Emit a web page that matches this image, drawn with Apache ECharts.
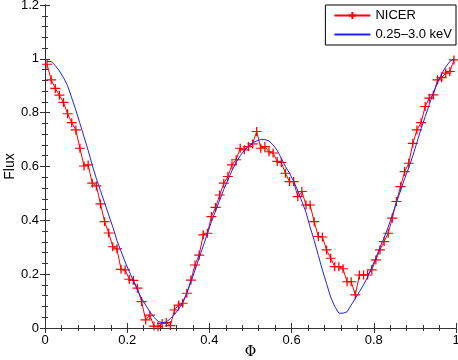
<!DOCTYPE html>
<html>
<head>
<meta charset="utf-8">
<script src="https://cdn.jsdelivr.net/npm/echarts@6/dist/echarts.min.js"></script>
<style>
  html, body { margin: 0; padding: 0; background: #fff; }
  #chart { width: 458px; height: 360px; }
</style>
</head>
<body>
<div id="chart"></div>
<script>
// phase bin centres
const phase = [
  0.005, 0.015, 0.025, 0.035, 0.045, 0.055, 0.065, 0.075, 0.085, 0.095,
  0.105, 0.115, 0.125, 0.135, 0.145, 0.155, 0.165, 0.175, 0.185, 0.195,
  0.205, 0.215, 0.225, 0.235, 0.245, 0.255, 0.265, 0.275, 0.285, 0.295,
  0.305, 0.315, 0.325, 0.335, 0.345, 0.355, 0.365, 0.375, 0.385, 0.395,
  0.405, 0.415, 0.425, 0.435, 0.445, 0.455, 0.465, 0.475, 0.485, 0.495,
  0.505, 0.515, 0.525, 0.535, 0.545, 0.555, 0.565, 0.575, 0.585, 0.595,
  0.605, 0.615, 0.625, 0.635, 0.645, 0.655, 0.665, 0.675, 0.685, 0.695,
  0.705, 0.715, 0.725, 0.735, 0.745, 0.755, 0.765, 0.775, 0.785, 0.795,
  0.805, 0.815, 0.825, 0.835, 0.845, 0.855, 0.865, 0.875, 0.885, 0.895,
  0.905, 0.915, 0.925, 0.935, 0.945, 0.955, 0.965, 0.975, 0.985, 0.995
];

// NICER pulse profile (red crosses)
const nicerFlux = [
  0.98, 0.922, 0.89, 0.865, 0.838, 0.796, 0.763, 0.736, 0.668, 0.602,
  0.606, 0.538, 0.528, 0.461, 0.395, 0.353, 0.302, 0.294, 0.218, 0.216,
  0.181, 0.177, 0.148, 0.098, 0.03, 0.048, 0.007, 0.005, 0.017, 0.02,
  0.009, 0.067, 0.085, 0.092, 0.129, 0.178, 0.234, 0.271, 0.346, 0.352,
  0.414, 0.448, 0.494, 0.538, 0.563, 0.606, 0.625, 0.668, 0.662, 0.674,
  0.684, 0.73, 0.668, 0.674, 0.655, 0.65, 0.619, 0.615, 0.575, 0.544,
  0.544, 0.488, 0.507, 0.457, 0.457, 0.395, 0.34, 0.338, 0.29, 0.259,
  0.228, 0.228, 0.22, 0.172, 0.172, 0.123, 0.197, 0.197, 0.197, 0.216,
  0.253, 0.29, 0.321, 0.352, 0.408, 0.47, 0.525, 0.581, 0.612, 0.686,
  0.736, 0.763, 0.823, 0.854, 0.866, 0.922, 0.93, 0.947, 0.953, 0.996
];

// 0.25-3.0 keV profile (blue line)
const modelFlux = [
  0.99, 0.99, 0.975, 0.955, 0.93, 0.90, 0.855, 0.81, 0.76, 0.71,
  0.66, 0.605, 0.555, 0.51, 0.465, 0.42, 0.375, 0.325, 0.285, 0.245,
  0.21, 0.175, 0.14, 0.11, 0.085, 0.06, 0.04, 0.025, 0.02, 0.022,
  0.035, 0.05, 0.07, 0.095, 0.13, 0.17, 0.215, 0.26, 0.305, 0.35,
  0.395, 0.435, 0.475, 0.515, 0.55, 0.585, 0.615, 0.64, 0.66, 0.675,
  0.688, 0.695, 0.70, 0.70, 0.695, 0.68, 0.66, 0.63, 0.60, 0.575,
  0.545, 0.51, 0.47, 0.43, 0.375, 0.325, 0.27, 0.215, 0.165, 0.115,
  0.08, 0.055, 0.055, 0.06, 0.085, 0.11, 0.135, 0.16, 0.19, 0.225,
  0.26, 0.30, 0.335, 0.375, 0.42, 0.465, 0.51, 0.555, 0.595, 0.64,
  0.69, 0.74, 0.785, 0.83, 0.875, 0.91, 0.945, 0.97, 0.99, 1.0
];

const seriesNames = ['NICER', '0.25\u20133.0 keV'];

const font = 'Liberation Sans, Arial, Helvetica, sans-serif';
const plus = 'path://M0,5L10,5M5,0L5,10';

const axisCommon = {
  min: 0,
  axisLine: { show: true, lineStyle: { color: '#333', width: 1 } },
  axisTick: { show: true, inside: true, length: 5, lineStyle: { color: '#333' } },
  minorTick: { show: true, splitNumber: 5, length: 3, lineStyle: { color: '#333' } },
  splitLine: { show: false }
};

const chart = echarts.init(document.getElementById('chart'));

chart.setOption({
  animation: false,
  backgroundColor: '#fff',
  textStyle: { fontFamily: font },
  grid: { left: 45, right: 2, top: 5, bottom: 32, containLabel: false, outerBoundsMode: 'none' },
  legend: {
    data: [
      { name: seriesNames[0] },
      { name: seriesNames[1], itemStyle: { opacity: 0 } }
    ],
    orient: 'vertical',
    right: 2,
    top: 5,
    backgroundColor: '#fff',
    borderColor: '#000',
    borderWidth: 1,
    borderRadius: 0,
    padding: [4, 4, 4, 8],
    itemGap: 6,
    itemWidth: 36,
    itemHeight: 9,
    textStyle: { fontFamily: font, fontSize: 13, color: '#000' }
  },
  xAxis: [
    Object.assign({}, axisCommon, {
      type: 'value', max: 1, interval: 0.2, position: 'bottom',
      name: '\u03a6', nameLocation: 'middle', nameGap: 17, nameMoveOverlap: false,
      nameTextStyle: { fontFamily: 'DejaVu Serif, serif', fontSize: 14, color: '#000' },
      axisLabel: { fontSize: 13, color: '#000', margin: 6 }
    }),
    Object.assign({}, axisCommon, {
      type: 'value', max: 1, interval: 0.2, position: 'top',
      axisLabel: { show: false }
    })
  ],
  yAxis: [
    Object.assign({}, axisCommon, {
      type: 'value', max: 1.2, interval: 0.2, position: 'left',
      name: 'Flux', nameLocation: 'middle', nameGap: 28, nameMoveOverlap: false,
      nameTextStyle: { fontFamily: font, fontSize: 14, color: '#000' },
      axisLabel: { fontSize: 13, color: '#000', margin: 6 }
    }),
    Object.assign({}, axisCommon, {
      type: 'value', max: 1.2, interval: 0.2, position: 'right',
      axisLabel: { show: false }
    })
  ],
  series: [
    {
      name: seriesNames[0],
      type: 'line',
      data: phase.map((p, i) => [p, nicerFlux[i]]),
      symbol: plus,
      symbolSize: [10, 9],
      showAllSymbol: true,
      lineStyle: { color: '#ff0000', width: 1 },
      itemStyle: { color: 'none', borderColor: '#ff0000', borderWidth: 1.2 },
      z: 2
    },
    {
      name: seriesNames[1],
      type: 'line',
      data: phase.map((p, i) => [p, modelFlux[i]]),
      symbol: 'none',
      lineStyle: { color: '#2020ff', width: 1 },
      itemStyle: { color: '#2020ff' },
      z: 3
    }
  ]
});
</script>
</body>
</html>
